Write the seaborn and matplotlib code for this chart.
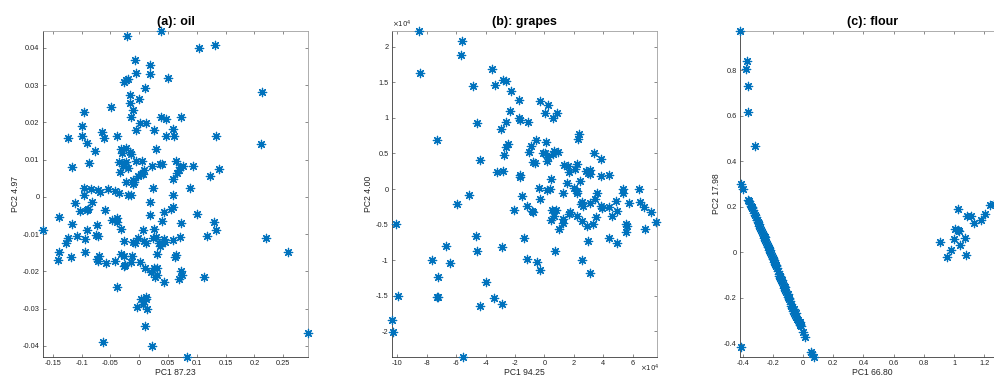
import numpy as np
import pandas as pd
import matplotlib
matplotlib.use("Agg")
import matplotlib.pyplot as plt
import seaborn as sns
from matplotlib.ticker import FuncFormatter, FixedLocator

# ---------------- data ----------------
titles = ["(a): oil", "(b): grapes", "(c): flour"]
xlabels = ["PC1 87.23", "PC1 94.25", "PC1 66.80"]
ylabels = ["PC2 4.97", "PC2 4.00", "PC2 17.98"]

oil_pc1 = [-0.0217, 0.0384, 0.1037, 0.1310, -0.0078, 0.0194, 0.0194, -0.0061, 0.0494, -0.0228,
           -0.0257, -0.0200, 0.2140, 0.0101, -0.0165, -0.0009, -0.0165, -0.0483, -0.0957, -0.0107,
           -0.0136, 0.0384, 0.0471, 0.0731, 0.0009, 0.0113, -0.0986, 0.0587, -0.0061, 0.0251,
           -0.0644, -0.0604, -0.1228, -0.0986, -0.0379, 0.0460, 0.0604, 0.1327, -0.0905, 0.2112,
           -0.0321, -0.0234, 0.0286, -0.0772, -0.0159, -0.0298, -0.0145, -0.1165, -0.0876, -0.0350,
           -0.0257, -0.0234, -0.0061, 0.0055, -0.0275, -0.0200, -0.0327, 0.0217, 0.0355, 0.0402,
           0.0633, 0.0754, 0.0714, 0.0685, 0.0656, 0.0939, 0.0078, 0.0032, -0.0026, 0.0067,
           0.1228, 0.1379, 0.0592, -0.0222, -0.0113, -0.0090, -0.0113,
           -0.0951, -0.0841, -0.0720, -0.0680, -0.0546, -0.0413, -0.0350, 0.0246, 0.0882, -0.0200,
           -0.0147, -0.0957, 0.0592, -0.1107, -0.0812, 0.0194, -0.1026, -0.0905, -0.0882, -0.0587,
           0.0587, 0.0558, 0.0437, 0.1003, 0.0194, -0.1384, -0.1159, -0.0737, -0.0465, -0.0390,
           -0.0379, 0.0396, 0.0725, 0.1304, 0.1333, -0.1667, -0.0899, -0.0309, 0.0061, 0.0263,
           -0.0754, -0.0720, -0.1240, -0.1078, -0.1275, -0.0934, -0.0263, -0.0101, -0.0072, -0.0014,
           0.0078, 0.0113, 0.0234, 0.0292, 0.0338, 0.0442, 0.0437, 0.0592, 0.0702, 0.1176,
           0.2210, 0.0361, 0.0396, -0.1396, -0.0945, 0.2586, -0.0309, -0.0263, -0.0124, 0.0309,
           -0.0702, -0.0725, -0.1177, 0.0633, 0.0616, -0.1401, -0.0720, -0.0425, -0.0240, -0.0257,
           -0.0147, 0.0014, -0.0569, 0.0101, 0.0251, 0.0303, 0.0199, 0.0725, 0.0737, 0.0275,
           0.0315, 0.0696, 0.1118, 0.0430, -0.0384, 0.0032, 0.0119, 0.0124, 0.0061, -0.0038,
           0.0142, 0.0101, -0.0621, 0.0217, 0.0824, 0.2928]
oil_pc2 = [0.0432, 0.0445, 0.0400, 0.0407, 0.0367, 0.0353, 0.0329, 0.0331, 0.0320, 0.0313,
           0.0308, 0.0315, 0.0281, 0.0292, 0.0272, 0.0263, 0.0252, 0.0241, 0.0228, 0.0232,
           0.0214, 0.0213, 0.0209, 0.0214, 0.0197, 0.0199, 0.0191, 0.0181, 0.0178, 0.0179,
           0.0173, 0.0158, 0.0159, 0.0163, 0.0162, 0.0162, 0.0162, 0.0162, 0.0144, 0.0142,
           0.0129, 0.0132, 0.0129, 0.0123, 0.0120, 0.0117, 0.0116, 0.0081, 0.0090, 0.0093,
           0.0090, 0.0093, 0.0095, 0.0096, 0.0084, 0.0077, 0.0066, 0.0084, 0.0088, 0.0088,
           0.0096, 0.0084, 0.0079, 0.0072, 0.0063, 0.0084, 0.0072, 0.0062, 0.0057, 0.0062,
           0.0057, 0.0075, 0.0048, 0.0039, 0.0044, 0.0039, 0.0034,
           0.0024, 0.0021, 0.0019, 0.0012, 0.0021, 0.0015, 0.0010, 0.0024, 0.0024, 0.0004,
           0.0004, 0.0004, 0.0004, -0.0017, -0.0014, -0.0014, -0.0038, -0.0035, -0.0033, -0.0035,
           -0.0028, -0.0032, -0.0041, -0.0045, -0.0050, -0.0053, -0.0074, -0.0076, -0.0062, -0.0058,
           -0.0067, -0.0064, -0.0070, -0.0068, -0.0090, -0.0089, -0.0089, -0.0087, -0.0090, -0.0087,
           -0.0102, -0.0106, -0.0111, -0.0106, -0.0123, -0.0114, -0.0119, -0.0122, -0.0123, -0.0111,
           -0.0118, -0.0124, -0.0111, -0.0108, -0.0123, -0.0120, -0.0113, -0.0117, -0.0109, -0.0104,
           -0.0111, -0.0131, -0.0124, -0.0147, -0.0149, -0.0149, -0.0153, -0.0160, -0.0159, -0.0153,
           -0.0160, -0.0166, -0.0161, -0.0157, -0.0162, -0.0170, -0.0173, -0.0171, -0.0183, -0.0185,
           -0.0176, -0.0174, -0.0179, -0.0191, -0.0191, -0.0191, -0.0203, -0.0200, -0.0210, -0.0216,
           -0.0211, -0.0220, -0.0215, -0.0229, -0.0242, -0.0274, -0.0268, -0.0275, -0.0287, -0.0295,
           -0.0302, -0.0348, -0.0391, -0.0401, -0.0430, -0.0366]

# grapes values in units of 1e4
grapes_pc1_e4 = [-8.50, -8.48, -5.62, -5.67, -3.54, -3.38, -4.83, -2.79, -2.63, -2.24,
                 -1.70, -0.29, 0.27, 0.86, 0.05, 0.59, -2.33, -1.72, -1.63, -1.11,
                 -2.61, -4.60, -2.97, -7.30, -2.49, -2.63, -0.57, -0.91, -1.04, -2.76,
                 0.11, -0.09, 0.02, 0.25, 0.16, 0.59, 0.68, 0.95, -0.77, -0.66,
                 -4.37, -3.24, -2.81, -1.63, -1.63, 0.45, 1.34, 1.59, 1.70, 2.08,
                 2.20, 2.36, 2.31, 2.42, 2.83, 2.95, 3.08, 3.10, 3.38, 3.81,
                 3.83, 4.42, -0.34, 1.52, 2.02, 0.39, 5.35, 6.41,
                 0.16, 1.25, 2.18, 2.24, 3.56, 5.37, -1.52, -0.29, -1.18, -0.84,
                 -0.75, -2.08, 0.52, 0.77, 2.52, 2.49, 2.63, 3.10, 3.42, 3.83,
                 3.92, 4.42, 4.87, 4.94, 5.73, 6.48, 6.80, 7.23, 7.61, 1.77,
                 1.70, 2.24, 2.58, 3.49, 3.33, 2.92, 4.60, 0.63, 0.45, 1.25,
                 1.27, 1.02, 5.55, 5.64, 5.55, 6.84, 4.42, 4.94, 2.95, 0.73,
                 2.58, 3.10, -1.36, -1.22, -0.50, -0.27, -2.88, -4.62, -4.60, -5.10,
                 -5.92, -6.69, -6.44, -7.64, -7.21, -7.30, -7.21, -3.99, -3.42, -4.40,
                 -2.88, -10.11, -9.93, -10.36, -10.27, -5.53]
grapes_pc2_e4 = [2.220, 1.625, 2.075, 1.878, 1.686, 1.466, 1.443, 1.532, 1.513, 1.382,
                 1.246, 1.241, 1.180, 1.068, 1.063, 1.002, 1.096, 0.998, 0.965, 0.946,
                 0.946, 0.932, 0.843, 0.684, 0.637, 0.595, 0.693, 0.604, 0.520, 0.482,
                 0.656, 0.506, 0.511, 0.450, 0.393, 0.497, 0.539, 0.525, 0.379, 0.365,
                 0.403, 0.244, 0.248, 0.197, 0.164, 0.145, 0.337, 0.323, 0.239, 0.276,
                 0.356, 0.773, 0.707, 0.117, 0.253, 0.225, 0.262, 0.211, 0.506, 0.417,
                 0.187, 0.197, 0.019, 0.080, 0.009, 0.000, -0.003, -0.002,
                 -0.019, -0.051, -0.033, -0.051, -0.051, -0.061, -0.098, -0.140, -0.238, -0.308,
                 -0.322, -0.290, -0.290, -0.290, -0.178, -0.215, -0.238, -0.201, -0.136, -0.234,
                 -0.266, -0.252, -0.164, -0.308, -0.201, -0.187, -0.248, -0.322, -0.458, -0.322,
                 -0.355, -0.374, -0.444, -0.388, -0.486, -0.519, -0.379, -0.379, -0.435, -0.416,
                 -0.481, -0.556, -0.486, -0.514, -0.607, -0.561, -0.692, -0.757, -0.734, -0.864,
                 -1.000, -1.182, -0.692, -0.977, -1.023, -1.140, -0.808, -0.654, -0.874, -0.084,
                 -0.215, -0.804, -1.037, -0.991, -1.229, -1.523, -1.519, -1.304, -1.533, -1.640,
                 -1.621, -0.486, -1.509, -1.846, -2.014, -2.355]
grapes_pc1 = [v * 1e4 for v in grapes_pc1_e4]
grapes_pc2 = [v * 1e4 for v in grapes_pc2_e4]

flour_pc1 = [-0.417, -0.369, -0.380, -0.362, -0.366, -0.316, -0.411, -0.395, -0.413,
             -0.366, -0.358, -0.351, -0.347, -0.340, -0.333, -0.325, -0.318, -0.311, -0.305,
             -0.300, -0.294, -0.289, -0.283, -0.278, -0.272, -0.265, -0.260, -0.254, -0.249,
             -0.245, -0.238, -0.234, -0.227, -0.223, -0.216, -0.212, -0.205, -0.201, -0.194,
             -0.190, -0.185, -0.179, -0.172, -0.168, -0.161, -0.157, -0.152, -0.146, -0.139,
             -0.135, -0.128, -0.124, -0.117, -0.113, -0.106, -0.099, -0.095, -0.088, -0.082,
             -0.077, -0.071, -0.064, -0.057, -0.051, -0.044, -0.038, -0.029, -0.022, -0.015,
             -0.002, 0.015, 0.053, 0.073,
             -0.341, -0.302, -0.262, -0.256, -0.231, -0.221, -0.196, -0.181, -0.151, -0.141,
             -0.121, -0.101, -0.091, -0.061, -0.049, -0.031, -0.019, -0.021, 0.061,
             0.909, 0.951, 0.978, 1.002, 1.009, 1.024, 1.035, 1.024, 1.042, 1.071,
             1.080, 1.084, 1.110, 1.130, 1.179, 1.205, 1.236, 1.265]
flour_pc2 = [0.971, 0.841, 0.806, 0.731, 0.617, 0.467, 0.301, 0.279, -0.415,
             0.231, 0.225, 0.214, 0.205, 0.196, 0.187, 0.174, 0.164, 0.155, 0.143,
             0.135, 0.126, 0.117, 0.108, 0.097, 0.088, 0.082, 0.073, 0.067, 0.056,
             0.047, 0.038, 0.029, 0.018, 0.009, 0.000, -0.009, -0.018, -0.026, -0.035,
             -0.044, -0.053, -0.061, -0.070, -0.082, -0.094, -0.102, -0.111, -0.120, -0.130,
             -0.140, -0.149, -0.158, -0.167, -0.176, -0.184, -0.196, -0.205, -0.214, -0.225,
             -0.234, -0.243, -0.255, -0.266, -0.275, -0.284, -0.293, -0.304, -0.313, -0.325,
             -0.350, -0.372, -0.439, -0.459,
             0.200, 0.140, 0.072, 0.064, 0.022, 0.010, -0.028, -0.057, -0.104, -0.119,
             -0.150, -0.182, -0.199, -0.247, -0.266, -0.298, -0.318, -0.305, -0.445,
             0.044, -0.020, 0.009, 0.057, 0.104, 0.099, 0.092, 0.190, 0.034, 0.064,
             -0.012, 0.159, 0.159, 0.129, 0.143, 0.167, 0.206, 0.214]

panels = [
    dict(x=oil_pc1, y=oil_pc2, xlim=(-0.167, 0.293), ylim=(-0.0430, 0.0445),
         xticks=[-0.15, -0.1, -0.05, 0, 0.05, 0.1, 0.15, 0.2, 0.25],
         yticks=[-0.04, -0.03, -0.02, -0.01, 0, 0.01, 0.02, 0.03, 0.04], scale=1),
    dict(x=grapes_pc1, y=grapes_pc2, xlim=(-10.36e4, 7.65e4), ylim=(-2.36e4, 2.22e4),
         xticks=[v * 1e4 for v in [-10, -8, -6, -4, -2, 0, 2, 4, 6]],
         yticks=[v * 1e4 for v in [-2, -1.5, -1, -0.5, 0, 0.5, 1, 1.5, 2]], scale=1e4),
    dict(x=flour_pc1, y=flour_pc2, xlim=(-0.418, 1.337), ylim=(-0.459, 0.971),
         xticks=[-0.4, -0.2, 0, 0.2, 0.4, 0.6, 0.8, 1.0, 1.2],
         yticks=[-0.4, -0.2, 0, 0.2, 0.4, 0.6, 0.8], scale=1),
]

# ---------------- style ----------------
sns.set_style("ticks")
plt.rcParams['font.family'] = ['Liberation Sans', 'DejaVu Sans']
plt.rcParams['axes.unicode_minus'] = False

fig = plt.figure(figsize=(9.95, 3.76), dpi=100)
lefts = [0.0432, 0.394, 0.7437]
W, B, H = 0.2663, 0.0505, 0.867
blue = '#0072BD'

def fmt(scale):
    def f(v, pos):
        s = f"{round(v / scale, 6):g}"
        return "0" if s in ("-0", "0") else s
    return FuncFormatter(f)

for i, p in enumerate(panels):
    ax = fig.add_axes([lefts[i], B, W, H])
    df = pd.DataFrame({"pc1": p["x"], "pc2": p["y"]})
    sns.scatterplot(data=df, x="pc1", y="pc2", ax=ax, marker=(8, 2, 0), s=36,
                    color=blue, linewidth=0.9, clip_on=False, legend=False, zorder=3)
    ax.set_xlim(*p["xlim"])
    ax.set_ylim(*p["ylim"])
    ax.xaxis.set_major_locator(FixedLocator(p["xticks"]))
    ax.yaxis.set_major_locator(FixedLocator(p["yticks"]))
    ax.xaxis.set_major_formatter(fmt(p["scale"]))
    ax.yaxis.set_major_formatter(fmt(p["scale"]))
    ax.tick_params(direction='in', length=2.2, width=0.6, top=True, right=True,
                   labelsize=5.3, color='#777777', labelcolor='#262626', pad=2.5)
    for sp in ax.spines.values():
        sp.set_visible(True)
        sp.set_color('#a0a0a0')
        sp.set_linewidth(0.6)
    ax.spines['left'].set_color('#3a3a3a')
    ax.spines['bottom'].set_color('#3a3a3a')
    ax.set_xlabel(xlabels[i], fontsize=6.2, labelpad=0.5, color='#262626')
    ax.set_ylabel(ylabels[i], fontsize=6.2, labelpad=2, color='#262626')
    ax.set_title(titles[i], fontsize=9, fontweight='bold', pad=4, color='black')
    if p["scale"] != 1:
        ax.text(0.0, 1.004, r'$\times10^{4}$', transform=ax.transAxes, fontsize=5,
                ha='left', va='bottom', color='#262626')
        ax.text(1.01, -0.036, r'$\times10^{4}$', transform=ax.transAxes, fontsize=5,
                ha='right', va='center', color='#262626')

fig.savefig("out.png", dpi=100)
